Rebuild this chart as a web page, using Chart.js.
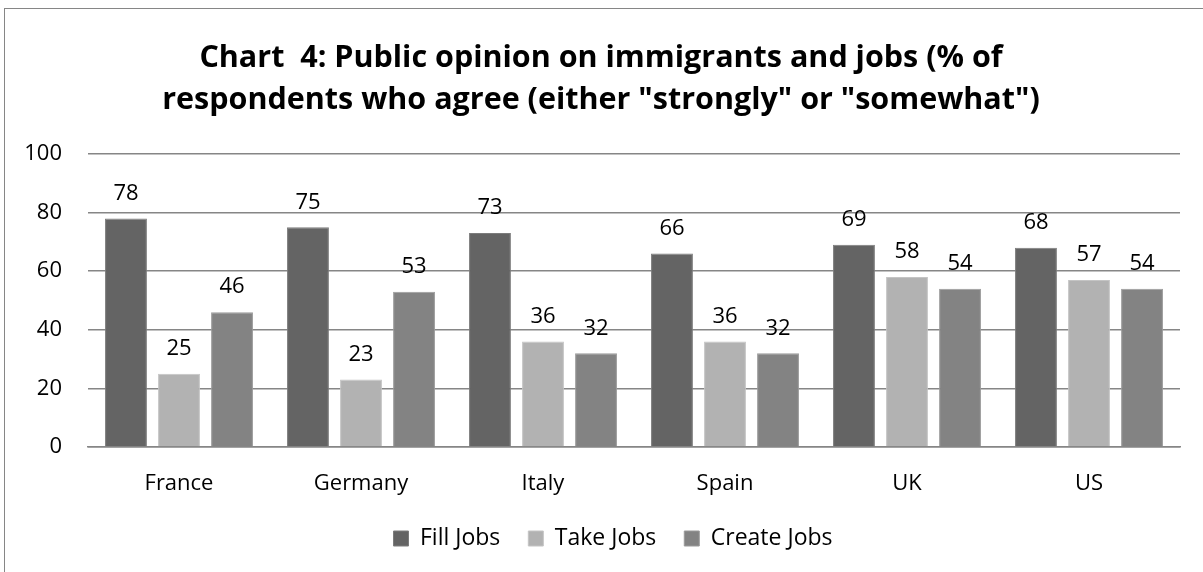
<!DOCTYPE html>
<html lang="en">
<head>
    <meta charset="UTF-8">
    <script src="https://cdn.jsdelivr.net/npm/chart.js"></script>
    <title>Chart 4</title>
    <style>
        html, body {
            margin: 0;
            padding: 0;
            background: #ffffff;
        }
        #frame {
            position: absolute;
            left: 4px;
            top: 8px;
            width: 1203px;
            height: 572px;
            border: 1px solid #868686;
            box-sizing: border-box;
        }
        #wrap {
            position: absolute;
            left: 0;
            top: 0;
            width: 1203px;
            height: 572px;
        }
    </style>
</head>
<body>
    <div id="frame"></div>
    <div id="wrap"><canvas id="chart" width="1203" height="572"></canvas></div>

    <script>
        // data
        const countries = ['France', 'Germany', 'Italy', 'Spain', 'UK', 'US'];
        const fillJobs = [78, 75, 73, 66, 69, 68];
        const takeJobs = [25, 23, 36, 36, 58, 57];
        const createJobs = [46, 53, 32, 32, 54, 54];
        const yTicks = [0, 20, 40, 60, 80, 100];

        const FONT = '"Open Sans", Lato, sans-serif';

        // value labels above the bars
        const barLabels = {
            id: 'barLabels',
            afterDatasetsDraw(chart) {
                const ctx = chart.ctx;
                ctx.save();
                ctx.font = '22px ' + FONT;
                ctx.fillStyle = '#000000';
                ctx.textAlign = 'center';
                ctx.textBaseline = 'middle';
                chart.data.datasets.forEach((ds, i) => {
                    chart.getDatasetMeta(i).data.forEach((bar, j) => {
                        ctx.fillText(String(ds.data[j]), bar.x, bar.y - 25);
                    });
                });
                ctx.restore();
            }
        };

        // title and legend sit a bit right of the canvas centre in the original
        const nudge = {
            id: 'nudge',
            afterLayout(chart) {
                if (chart.titleBlock) {
                    chart.titleBlock.left += 11;
                    chart.titleBlock.right += 11;
                }
                if (chart.legend) {
                    chart.legend.left += 23;
                    chart.legend.right += 23;
                }
            }
        };

        new Chart(document.getElementById('chart'), {
            type: 'bar',
            data: {
                labels: countries,
                datasets: [
                    { label: 'Fill Jobs', data: fillJobs, backgroundColor: '#646464', borderColor: '#7c7c7c', borderWidth: 1 },
                    { label: 'Take Jobs', data: takeJobs, backgroundColor: '#b2b2b2', borderColor: '#c4c4c4', borderWidth: 1 },
                    { label: 'Create Jobs', data: createJobs, backgroundColor: '#838383', borderColor: '#9a9a9a', borderWidth: 1 }
                ]
            },
            options: {
                responsive: false,
                animation: false,
                events: [],
                layout: { padding: { left: 0, right: 23, top: 0, bottom: 12 } },
                datasets: {
                    bar: { categoryPercentage: 0.874, barPercentage: 0.79 }
                },
                plugins: {
                    title: {
                        display: true,
                        text: ['Chart  4: Public opinion on immigrants and jobs (% of',
                               'respondents who agree (either "strongly" or "somewhat")'],
                        color: '#000000',
                        font: { family: FONT, size: 30.5, weight: 'bold', lineHeight: 1.377 },
                        padding: { top: 37, bottom: 33 }
                    },
                    legend: {
                        position: 'bottom',
                        labels: {
                            color: '#000000',
                            font: { family: FONT, size: 23 },
                            boxWidth: 15,
                            boxHeight: 15,
                            padding: 28
                        }
                    },
                    tooltip: { enabled: false }
                },
                scales: {
                    x: {
                        grid: { display: false },
                        border: { display: true, color: '#868686', width: 1.5 },
                        ticks: { color: '#000000', font: { family: FONT, size: 22 }, padding: 16 },
                        afterFit(scale) { scale.height = 52; }
                    },
                    y: {
                        min: 0,
                        max: 100,
                        afterBuildTicks(scale) {
                            scale.ticks = yTicks.map(v => ({ value: v }));
                        },
                        grid: { color: '#868686', lineWidth: 1.5, drawTicks: false },
                        border: { display: false },
                        ticks: { color: '#000000', font: { family: FONT, size: 22 }, padding: 26 },
                        afterFit(scale) { scale.width = 88; }
                    }
                }
            },
            plugins: [barLabels, nudge]
        });
    </script>
</body>
</html>
